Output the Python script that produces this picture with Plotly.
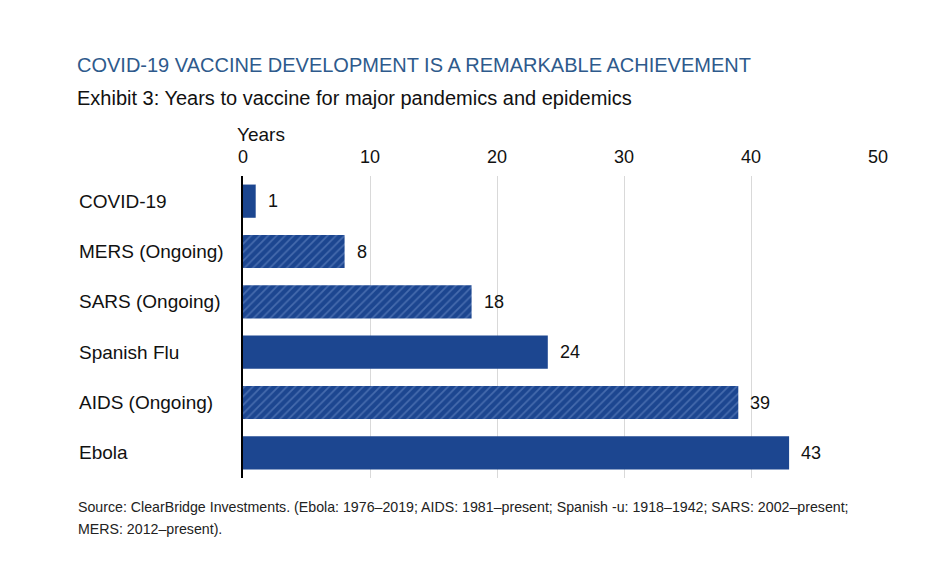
import plotly.graph_objects as go

categories = ["COVID-19", "MERS (Ongoing)", "SARS (Ongoing)", "Spanish Flu", "AIDS (Ongoing)", "Ebola"]
years = [1, 8, 18, 24, 39, 43]
ongoing = [False, True, True, False, True, False]
x_ticks = [0, 10, 20, 30, 40, 50]

title = "COVID-19 VACCINE DEVELOPMENT IS A REMARKABLE ACHIEVEMENT"
subtitle = "Exhibit 3: Years to vaccine for major pandemics and epidemics"
source_1 = "Source: ClearBridge Investments. (Ebola: 1976–2019; AIDS: 1981–present; Spanish -u: 1918–1942; SARS: 2002–present;"
source_2 = "MERS: 2012–present)."

BLUE = "#1c4690"
HATCH = "#6f8fca"
FONT = "Liberation Sans, Arial, sans-serif"

fig = go.Figure()
fig.add_trace(go.Bar(
    y=categories, x=years, orientation="h",
    marker=dict(
        color=BLUE,
        line=dict(width=0),
        pattern=dict(
            shape=["/" if o else "" for o in ongoing],
            fgcolor=HATCH, fillmode="overlay", size=6, solidity=0.28,
        ),
    ),
    width=0.66,
    hoverinfo="skip",
))

annotations = []
for c, v in zip(categories, years):
    annotations.append(dict(x=v, y=c, xref="x", yref="y", text=str(v), showarrow=False,
                            xanchor="left", xshift=10, font=dict(size=18, color="#111", family=FONT)))
    annotations.append(dict(x=-0.2615, y=c, xref="paper", yref="y", text=c, showarrow=False,
                            xanchor="left", font=dict(size=19, color="#111", family=FONT)))

annotations += [
    dict(x=-0.2645, y=1.3675, xref="paper", yref="paper", text=title, showarrow=False, xanchor="left",
         yanchor="middle", font=dict(size=20, color="#2e5a8c", family=FONT)),
    dict(x=-0.2645, y=1.258, xref="paper", yref="paper", text=subtitle, showarrow=False, xanchor="left",
         yanchor="middle", font=dict(size=20, color="#111", family=FONT)),
    dict(x=-0.012, y=1.139, xref="paper", yref="paper", text="Years", showarrow=False, xanchor="left",
         yanchor="middle", font=dict(size=19, color="#111", family=FONT)),
    dict(x=-0.263, y=-0.096, xref="paper", yref="paper", text=source_1, showarrow=False, xanchor="left",
         yanchor="middle", align="left", font=dict(size=14.2, color="#222", family=FONT)),
    dict(x=-0.263, y=-0.169, xref="paper", yref="paper", text=source_2, showarrow=False, xanchor="left",
         yanchor="middle", align="left", font=dict(size=14.2, color="#222", family=FONT)),
]

fig.update_layout(
    width=938, height=585,
    margin=dict(l=243, r=60, t=176, b=107),
    paper_bgcolor="white", plot_bgcolor="white",
    showlegend=False,
    font=dict(family=FONT, size=16, color="#111"),
    annotations=annotations,
    xaxis=dict(
        range=[0, 50], side="top", tickvals=x_ticks, ticktext=[str(t) for t in x_ticks],
        showgrid=True, gridcolor="#d9d9d9", gridwidth=1, zeroline=False,
        ticks="outside", ticklen=5, tickcolor="rgba(0,0,0,0)",
        tickfont=dict(size=18, color="#111", family=FONT), showline=False,
    ),
    yaxis=dict(
        categoryorder="array", categoryarray=categories, autorange="reversed",
        showticklabels=False, showgrid=False, zeroline=False,
        showline=True, linecolor="#000", linewidth=2,
    ),
)

fig.write_html("out.html", config={"displayModeBar": False},
               post_script="document.body.style.margin='0';document.body.style.overflow='hidden';")
